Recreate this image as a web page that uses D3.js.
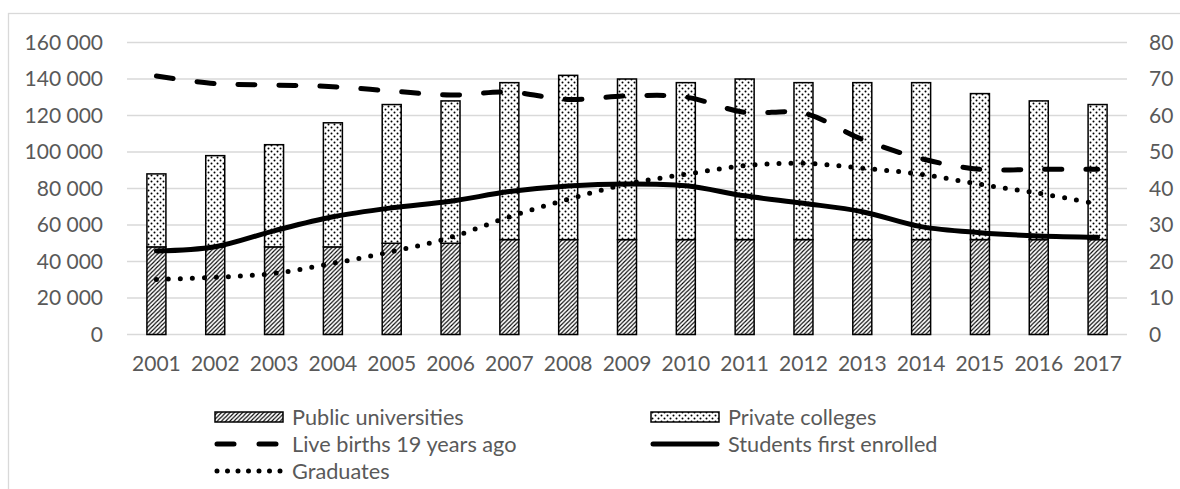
<!DOCTYPE html>
<html><head><meta charset="utf-8">
<script src="https://cdn.jsdelivr.net/npm/d3@7"></script>
<style>
html,body{margin:0;padding:0;background:#fff;}
svg text{font-family:Lato,"Open Sans",sans-serif;fill:#595959;}
</style></head>
<body>
<svg id="c" width="1180" height="489"></svg>
<script>
const years = ["2001","2002","2003","2004","2005","2006","2007","2008","2009","2010","2011","2012","2013","2014","2015","2016","2017"];
const publicUniversities = [24,24,24,24,25,25,26,26,26,26,26,26,26,26,26,26,26];
const privateColleges = [20,25,28,34,38,39,43,45,44,43,44,43,43,43,40,38,37];
const liveBirths19 = [141600,137500,136700,135800,133400,131200,132800,128800,130700,130100,121700,121300,106900,96400,90500,90500,90500];
const studentsFirstEnrolled = [45800,48100,56800,64500,69400,73000,78300,81400,82500,81500,76000,71900,67300,59100,55800,54000,53300];
const graduates = [30200,31300,33500,39000,45400,53200,64500,74100,82500,87800,92500,93800,91100,87800,82300,77400,71500];
const leftTicks = [0,20000,40000,60000,80000,100000,120000,140000,160000];
const rightTicks = [0,10,20,30,40,50,60,70,80];

const svg = d3.select("#c");
const W = 1180, H = 489;
const plot = {x0:127, x1:1127, y0:42.5, y1:334.5};

// chart border
svg.append("rect").attr("x",8.5).attr("y",13.5).attr("width",W+10).attr("height",H+10)
  .attr("fill","#fff").attr("stroke","#d9d9d9").attr("stroke-width",1.3);

const defs = svg.append("defs");
const hatch = defs.append("pattern").attr("id","hatch").attr("patternUnits","userSpaceOnUse")
  .attr("width",4.2).attr("height",4.2);
hatch.append("rect").attr("width",4.2).attr("height",4.2).attr("fill","#fff");
hatch.append("path").attr("d","M-1,5.2 L5.2,-1 M-1,1 L1,-1 M3.2,5.2 L5.2,3.2").attr("stroke","#000").attr("stroke-width",1.1);
const dots = defs.append("pattern").attr("id","dots").attr("patternUnits","userSpaceOnUse")
  .attr("width",6).attr("height",6);
dots.append("rect").attr("width",6).attr("height",6).attr("fill","#fff");
dots.append("circle").attr("cx",1.5).attr("cy",1.5).attr("r",1).attr("fill","#000");
dots.append("circle").attr("cx",4.5).attr("cy",4.5).attr("r",1).attr("fill","#000");

const x = d3.scaleBand().domain(years).range([plot.x0,plot.x1]).paddingInner(0).paddingOuter(0);
const yL = d3.scaleLinear().domain([0,160000]).range([plot.y1,plot.y0]);
const yR = d3.scaleLinear().domain([0,80]).range([plot.y1,plot.y0]);

const fmt = v => d3.format(",")(v).replace(/,/g," ");

// gridlines
svg.append("g").selectAll("line").data(leftTicks).join("line")
  .attr("x1",plot.x0).attr("x2",plot.x1)
  .attr("y1",d=>yL(d)).attr("y2",d=>yL(d))
  .attr("stroke","#d9d9d9").attr("stroke-width",1.3);

// left axis
const gl = svg.append("g").attr("transform",`translate(${plot.x0},0)`)
  .call(d3.axisLeft(yL).tickValues(leftTicks).tickFormat(fmt).tickSize(0).tickPadding(24));
gl.select(".domain").remove();
gl.selectAll("text").style("font-size","21px").attr("fill","#595959");
// right axis
const gr = svg.append("g").attr("transform",`translate(${plot.x1},0)`)
  .call(d3.axisRight(yR).tickValues(rightTicks).tickSize(0).tickPadding(22));
gr.select(".domain").remove();
gr.selectAll("text").style("font-size","21px").attr("fill","#595959");
// bottom axis
const gb = svg.append("g").attr("transform",`translate(0,${plot.y1})`)
  .call(d3.axisBottom(x).tickSize(0).tickPadding(22));
gb.select(".domain").remove();
gb.selectAll("text").style("font-size","21px").attr("fill","#595959");

// bars
const bw = 19;
const bars = svg.append("g");
years.forEach((yr,i)=>{
  const cx = x(yr)+x.bandwidth()/2;
  bars.append("rect").attr("x",cx-bw/2).attr("width",bw)
    .attr("y",yR(publicUniversities[i])).attr("height",yR(0)-yR(publicUniversities[i]))
    .attr("fill","url(#hatch)").attr("stroke","#000").attr("stroke-width",1.5);
  const top = publicUniversities[i]+privateColleges[i];
  bars.append("rect").attr("x",cx-bw/2).attr("width",bw)
    .attr("y",yR(top)).attr("height",yR(publicUniversities[i])-yR(top))
    .attr("fill","url(#dots)").attr("stroke","#000").attr("stroke-width",1.5);
});

const line = d3.line().x((d,i)=>x(years[i])+x.bandwidth()/2).y(d=>yL(d)).curve(d3.curveCatmullRom.alpha(0.5));
svg.append("path").datum(liveBirths19).attr("d",line).attr("fill","none")
  .attr("stroke","#000").attr("stroke-width",5).attr("stroke-linecap","round").attr("stroke-dasharray","17 24");
svg.append("path").datum(studentsFirstEnrolled).attr("d",line).attr("fill","none")
  .attr("stroke","#000").attr("stroke-width",5).attr("stroke-linecap","round");
svg.append("path").datum(graduates).attr("d",line).attr("fill","none")
  .attr("stroke","#000").attr("stroke-width",5).attr("stroke-linecap","round").attr("stroke-dasharray","0 12");

// legend
const leg = svg.append("g");
const items = [
  {name:"Public universities", type:"hatch", x:215, y:417},
  {name:"Private colleges", type:"dots", x:651, y:417},
  {name:"Live births 19 years ago", type:"dash", x:215, y:444},
  {name:"Students first enrolled", type:"solid", x:651, y:444},
  {name:"Graduates", type:"dot", x:215, y:471}
];
items.forEach(it=>{
  if(it.type==="hatch"||it.type==="dots"){
    leg.append("rect").attr("x",it.x).attr("y",it.y-5).attr("width",68).attr("height",10)
      .attr("fill",it.type==="hatch"?"url(#hatch)":"url(#dots)").attr("stroke","#000").attr("stroke-width",1.5);
  } else {
    const p = leg.append("line").attr("x1",it.x+2).attr("x2",it.x+66).attr("y1",it.y).attr("y2",it.y)
      .attr("stroke","#000").attr("stroke-width",5).attr("stroke-linecap","round");
    if(it.type==="dash") p.attr("stroke-dasharray","17 25");
    if(it.type==="dot") p.attr("stroke-dasharray","0 10.5");
  }
  leg.append("text").attr("x",it.x+77).attr("y",it.y).attr("dy","0.35em")
    .style("font-size","21.7px").text(it.name);
});
</script>
</body></html>
